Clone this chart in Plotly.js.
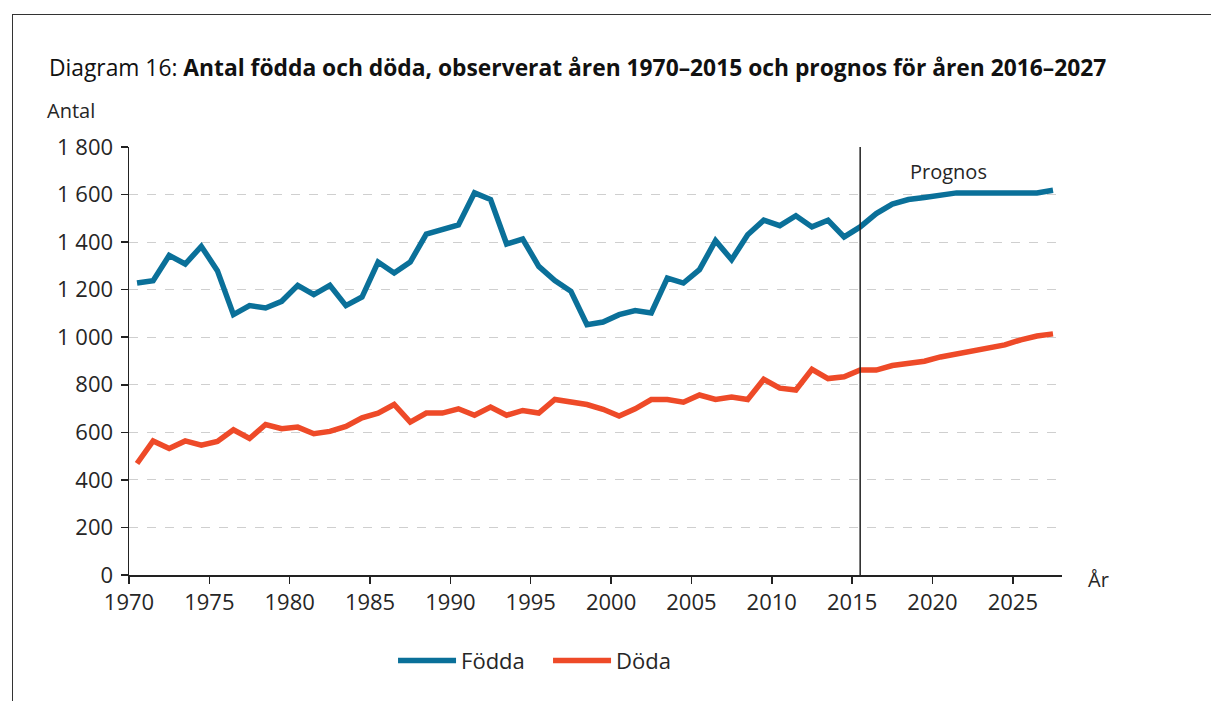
<!DOCTYPE html>
<html>
<head>
<meta charset="utf-8">
<script src="https://cdn.plot.ly/plotly-3.0.1.min.js"></script>
<style>
html,body{margin:0;padding:0;background:#fff;}
#frame{position:absolute;left:12px;top:14px;width:1199px;height:687px;border-top:1px solid #333;border-left:1px solid #333;box-sizing:border-box;}
#chart{position:absolute;left:0;top:0;width:1211px;height:701px;}
</style>
</head>
<body>
<div id="frame"></div>
<div id="chart"></div>
<script>
const years = [1970,1971,1972,1973,1974,1975,1976,1977,1978,1979,1980,1981,1982,1983,1984,1985,1986,1987,1988,1989,1990,1991,1992,1993,1994,1995,1996,1997,1998,1999,2000,2001,2002,2003,2004,2005,2006,2007,2008,2009,2010,2011,2012,2013,2014,2015,2016,2017,2018,2019,2020,2021,2022,2023,2024,2025,2026,2027];
const fodda = [1228,1238,1344,1308,1382,1280,1095,1133,1123,1151,1218,1179,1218,1133,1169,1316,1270,1316,1434,1455,1472,1607,1579,1392,1413,1298,1238,1193,1053,1064,1095,1112,1102,1249,1228,1284,1406,1326,1431,1492,1469,1511,1464,1492,1422,1464,1520,1560,1579,1588,1598,1607,1607,1607,1607,1607,1607,1618];
const doda = [469,564,532,564,546,562,611,574,633,615,622,594,604,625,661,681,717,643,681,681,699,672,706,672,692,681,738,730,717,697,669,699,738,738,727,757,738,748,738,823,786,778,865,826,834,862,862,881,890,899,917,930,941,959,968,989,1005,1014];
const xTickYears = [1970,1975,1980,1985,1990,1995,2000,2005,2010,2015,2020,2025];
const yTickVals = [0,200,400,600,800,1000,1200,1400,1600,1800];
const yTickText = ['0','200','400','600','800','1 000','1 200','1 400','1 600','1 800'];
const prognosYear = 2015;
const seriesNames = ['Födda','Döda'];

const FONT = 'Open Sans, Noto Sans, sans-serif';
const TXT = '#262626';
const traces = [
  {x: years, y: fodda, name: seriesNames[0], type: 'scatter', mode: 'lines',
   line: {color: '#0A7099', width: 5.5}},
  {x: years, y: doda, name: seriesNames[1], type: 'scatter', mode: 'lines',
   line: {color: '#EE4A28', width: 5.5}}
];
const layout = {
  width: 1211, height: 701,
  margin: {l: 129, r: 149, t: 147, b: 126},
  paper_bgcolor: 'rgba(0,0,0,0)', plot_bgcolor: 'rgba(0,0,0,0)',
  font: {family: FONT, color: TXT, size: 20},
  showlegend: true,
  legend: {orientation: 'h', x: 0.283, xanchor: 'left', y: -0.2, yanchor: 'middle',
    font: {family: FONT, size: 22, color: TXT}, itemwidth: 58,
    entrywidth: 82, entrywidthmode: 'pixels', tracegroupgap: 0},
  xaxis: {
    range: [1969.5, 2027.56], tickmode: 'array',
    tickvals: xTickYears.map(v => v - 0.5), ticktext: xTickYears.map(String),
    showline: true, linecolor: '#222', linewidth: 1.5,
    ticks: 'outside', ticklen: 7, tickcolor: '#222', tickwidth: 1.5,
    showgrid: false, zeroline: false,
    tickfont: {family: FONT, size: 22, color: TXT}
  },
  yaxis: {
    range: [0, 1800], tickmode: 'array', tickvals: yTickVals, ticktext: yTickText,
    showline: true, linecolor: '#222', linewidth: 1.5,
    ticks: 'outside', ticklen: 7, tickcolor: '#222', tickwidth: 1.5,
    ticklabelstandoff: 3,
    showgrid: true, gridcolor: '#cfcfcf', griddash: 'dash', gridwidth: 1,
    zeroline: false,
    tickfont: {family: FONT, size: 22, color: TXT}
  },
  shapes: [
    {type: 'line', xref: 'x', yref: 'paper', x0: prognosYear, x1: prognosYear, y0: 0, y1: 1,
     line: {color: '#222', width: 1.5}}
  ],
  annotations: [
    {text: 'Diagram 16: <b>Antal födda och döda, observerat åren 1970–2015 och prognos för åren 2016–2027</b>',
     xref: 'paper', yref: 'paper', x: -0.088, y: 1.185, xanchor: 'left', yanchor: 'middle',
     showarrow: false, font: {family: FONT, size: 22.8, color: '#111'}},
    {text: 'Antal', xref: 'paper', yref: 'paper', x: -0.09, y: 1.085, xanchor: 'left', yanchor: 'middle',
     showarrow: false, font: {family: FONT, size: 20, color: TXT}},
    {text: 'År', xref: 'paper', yref: 'paper', x: 1.026, y: -0.01, xanchor: 'left', yanchor: 'middle',
     showarrow: false, font: {family: FONT, size: 20, color: TXT}},
    {text: 'Prognos', xref: 'x', yref: 'paper', x: 2020.5, y: 0.942, xanchor: 'center', yanchor: 'middle',
     showarrow: false, font: {family: FONT, size: 20, color: TXT}}
  ]
};
Plotly.newPlot('chart', traces, layout, {displayModeBar: false, staticPlot: true});
</script>
</body>
</html>
